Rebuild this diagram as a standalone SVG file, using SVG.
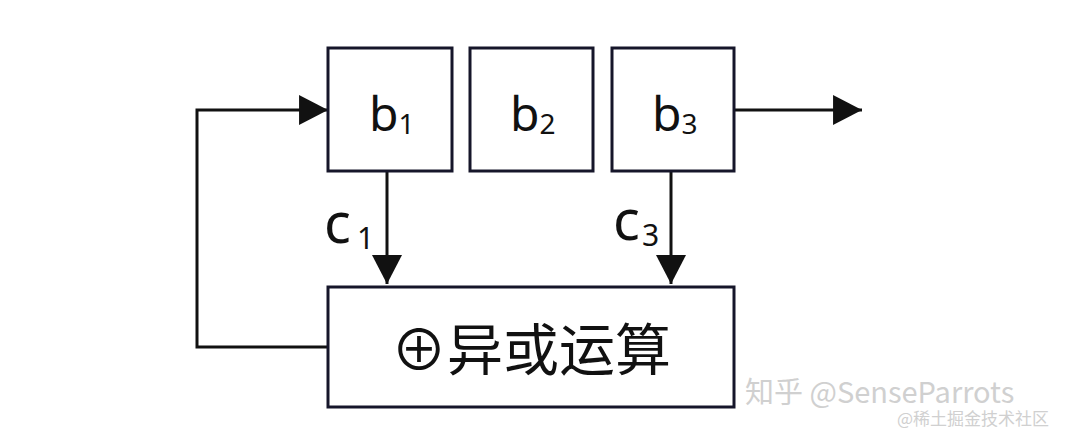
<svg xmlns="http://www.w3.org/2000/svg" width="1072" height="442" viewBox="0 0 1072 442">
<style>
.box{fill:#fff;stroke:#16162a;stroke-width:3}
.line{fill:none;stroke:#111;stroke-width:3}
.lbl{font-family:"Noto Sans","Open Sans",sans-serif;fill:#111}
.cjk{font-family:"Noto Sans CJK SC",sans-serif;fill:#111}
.wm{font-family:"Noto Sans CJK SC",sans-serif;fill:#d0d0d0}
</style>
<defs>
<marker id="arr" markerUnits="userSpaceOnUse" markerWidth="30" markerHeight="30" viewBox="0 0 28 29" refX="28" refY="14.5" orient="auto">
<path d="M0,0 L28,14.5 L0,29 Z" fill="#111"/>
</marker>
</defs>
<rect width="1072" height="442" fill="#fff"/>
<g id="connectors">
<polyline class="line" points="328,347 197,347 197,110 328,110" marker-end="url(#arr)"/>
<line class="line" x1="734" y1="110" x2="862" y2="110" marker-end="url(#arr)"/>
<line class="line" x1="387" y1="171" x2="387" y2="284" marker-end="url(#arr)"/>
<line class="line" x1="671" y1="171" x2="671" y2="284" marker-end="url(#arr)"/>
</g>
<g id="b1">
<rect class="box" x="328" y="48" width="124" height="123"/>
<text class="lbl" x="369" y="131" font-size="48">b<tspan font-size="28" dy="3">1</tspan></text>
</g>
<g id="b2">
<rect class="box" x="470" y="48" width="123" height="123"/>
<text class="lbl" x="510" y="131" font-size="48">b<tspan font-size="28" dy="3">2</tspan></text>
</g>
<g id="b3">
<rect class="box" x="612" y="48" width="122" height="123"/>
<text class="lbl" x="652" y="131" font-size="48">b<tspan font-size="28" dy="3">3</tspan></text>
</g>
<g id="c1">
<text class="lbl" x="324" y="243" font-size="56">c<tspan font-size="30" dx="6" dy="6">1</tspan></text>
</g>
<g id="c3">
<text class="lbl" x="613" y="240" font-size="56">c<tspan font-size="30" dx="2" dy="6">3</tspan></text>
</g>
<g id="xor">
<rect class="box" x="328" y="287" width="406" height="120"/>
<text class="cjk" x="531" y="370" font-size="56" text-anchor="middle">⊕异或运算</text>
</g>
<g id="watermark">
<text class="wm" x="745" y="403" font-size="29">知乎 @SenseParrots</text>
<text class="wm" x="897" y="425" font-size="17" fill="#bbb">@稀土掘金技术社区</text>
</g>
</svg>
